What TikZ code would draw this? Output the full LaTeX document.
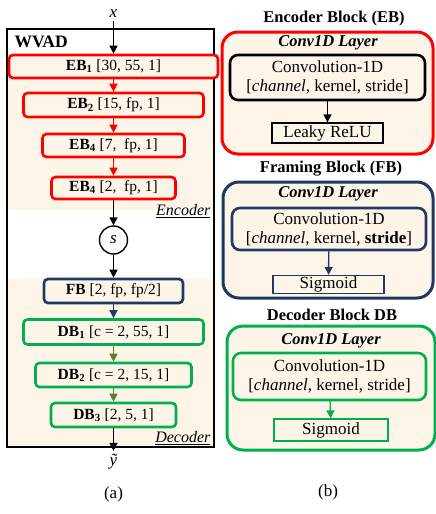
\documentclass[tikz,border=0pt]{standalone}
\usepackage{fontspec}
\setmainfont{Liberation Serif}
\usetikzlibrary{arrows.meta,positioning}
\definecolor{ebred}{RGB}{255,0,0}
\definecolor{fbnavy}{RGB}{31,56,100}
\definecolor{dbgreen}{RGB}{0,176,80}
\definecolor{dbolive}{RGB}{84,130,53}
\definecolor{paper}{RGB}{253,246,232}

\begin{document}
\begin{tikzpicture}[x=1pt,y=-1pt,
  every node/.style={font=\fontsize{15.5}{18}\selectfont},
  big/.style={font=\fontsize{17}{19}\selectfont},
  ttl/.style={font=\fontsize{16.5}{19}\selectfont\bfseries},
  lyr/.style={font=\fontsize{16.5}{19}\selectfont\bfseries\itshape},
  blk/.style={draw,line width=2.6pt,rounded corners=4pt,fill=paper,inner sep=0pt},
  outer/.style={draw,line width=3pt,rounded corners=16pt,fill=paper,inner sep=0pt},
  inner/.style={draw,line width=2.6pt,rounded corners=8pt,align=center,inner sep=0pt,big},
  act/.style={draw,line width=1.3pt,inner sep=0pt,big},
  arr/.style={-{Triangle[length=8pt,width=8pt]},line width=1.4pt}]
\useasboundingbox (0,0) rectangle (436,514);
% left: WVAD
\fill[paper] (7,55) rectangle (214,210);
\fill[paper] (7,279) rectangle (214,447);
\draw[line width=2pt] (7,29) rectangle (214,447);
\node[anchor=west,font=\fontsize{17.5}{19}\selectfont\bfseries] (wvad) at (11,42) {WVAD};
\node[big] (x) at (113.5,14) {\textit{x}};
\node[blk,draw=ebred,minimum width=209pt,minimum height=23pt] (eb1) at (113.5,66.5) {\textbf{EB\textsubscript{1}} [30, 55, 1]};
\node[blk,draw=ebred,minimum width=180pt,minimum height=24pt] (eb2) at (113.5,105) {\textbf{EB\textsubscript{2}} [15, fp, 1]};
\node[blk,draw=ebred,minimum width=142pt,minimum height=23pt] (eb3) at (113.5,145.5) {\textbf{EB\textsubscript{4}} [7,~ fp, 1]};
\node[blk,draw=ebred,minimum width=124pt,minimum height=22pt] (eb4) at (113.5,188) {\textbf{EB\textsubscript{4}} [2,~ fp, 1]};
\node[anchor=east,font=\fontsize{16}{18}\selectfont] (enc) at (214,211) {\underline{\textit{Encoder}}};
\node[draw,circle,line width=1.4pt,fill=white,minimum size=28pt,inner sep=0pt,big] (s) at (113.5,240) {\textit{s}};
\node[blk,draw=fbnavy,minimum width=139pt,minimum height=24pt] (fb) at (113.5,291) {\textbf{FB} [2, fp, fp/2]};
\node[blk,draw=dbgreen,minimum width=180pt,minimum height=25pt] (db1) at (113.5,332) {\textbf{DB\textsubscript{1}} [c = 2, 55, 1]};
\node[blk,draw=dbgreen,minimum width=156pt,minimum height=24pt] (db2) at (113.5,375) {\textbf{DB\textsubscript{2}} [c = 2, 15, 1]};
\node[blk,draw=dbgreen,minimum width=125pt,minimum height=24pt] (db3) at (113.5,415) {\textbf{DB\textsubscript{3}} [2, 5, 1]};
\node[anchor=east,font=\fontsize{16}{18}\selectfont] (dec) at (214,438) {\underline{\textit{Decoder}}};
\node[big] (yt) at (113.5,462) {\textit{\~y}};
\node[big] (capa) at (113.5,494) {(a)};
\draw[arr] (x) -- (eb1);
\draw[arr,ebred] (eb1) -- (eb2);
\draw[arr,ebred] (eb2) -- (eb3);
\draw[arr,ebred] (eb3) -- (eb4);
\draw[arr] (eb4) -- (s);
\draw[arr] (s) -- (fb);
\draw[arr,fbnavy] (fb) -- (db1);
\draw[arr,dbolive] (db1) -- (db2);
\draw[arr,dbolive] (db2) -- (db3);
\draw[arr] (db3) -- (yt);
% right: encoder block
\node[ttl] (ebt) at (334,19) {Encoder Block (EB)};
\node[outer,draw=ebred,minimum width=211pt,minimum height=122pt] (ebo) at (327.5,93) {};
\node[lyr] (ebl) at (328,43) {Conv1D Layer};
\node[inner,minimum width=195pt,minimum height=45pt] (ebc) at (327.5,77.5) {Convolution-1D\\{}[\textit{channel}, kernel, stride]};
\node[act,minimum width=111pt,minimum height=20pt] (ebr) at (327.5,133) {Leaky ReLU};
\draw[arr] (ebc) -- (ebr);
% framing block
\node[ttl] (fbt) at (331,169) {Framing Block (FB)};
\node[outer,draw=fbnavy,minimum width=210pt,minimum height=116pt] (fbo) at (328,240) {};
\node[lyr] (fbl) at (328,194) {Conv1D Layer};
\node[inner,draw=fbnavy,minimum width=194pt,minimum height=42pt] (fbc) at (329,229) {Convolution-1D\\{}[\textit{channel}, kernel, \textbf{stride}]};
\node[act,draw=fbnavy,minimum width=111pt,minimum height=18pt] (fbs) at (328.5,284.5) {Sigmoid};
\draw[arr,fbnavy] (fbc) -- (fbs);
% decoder block
\node[ttl] (dbt) at (332,315) {Decoder Block DB};
\node[outer,draw=dbgreen,minimum width=208pt,minimum height=124pt] (dbo) at (331,388) {};
\node[lyr] (dbl) at (331,341) {Conv1D Layer};
\node[inner,draw=dbgreen,minimum width=193pt,minimum height=47pt] (dbc) at (329.5,376.5) {Convolution-1D\\{}[\textit{channel}, kernel, stride]};
\node[act,draw=dbgreen,minimum width=114pt,minimum height=22pt] (dbs) at (331,430) {Sigmoid};
\draw[arr,dbgreen] (dbc) -- (dbs);
\node[big] (capb) at (328,492) {(b)};
\end{tikzpicture}
\end{document}
